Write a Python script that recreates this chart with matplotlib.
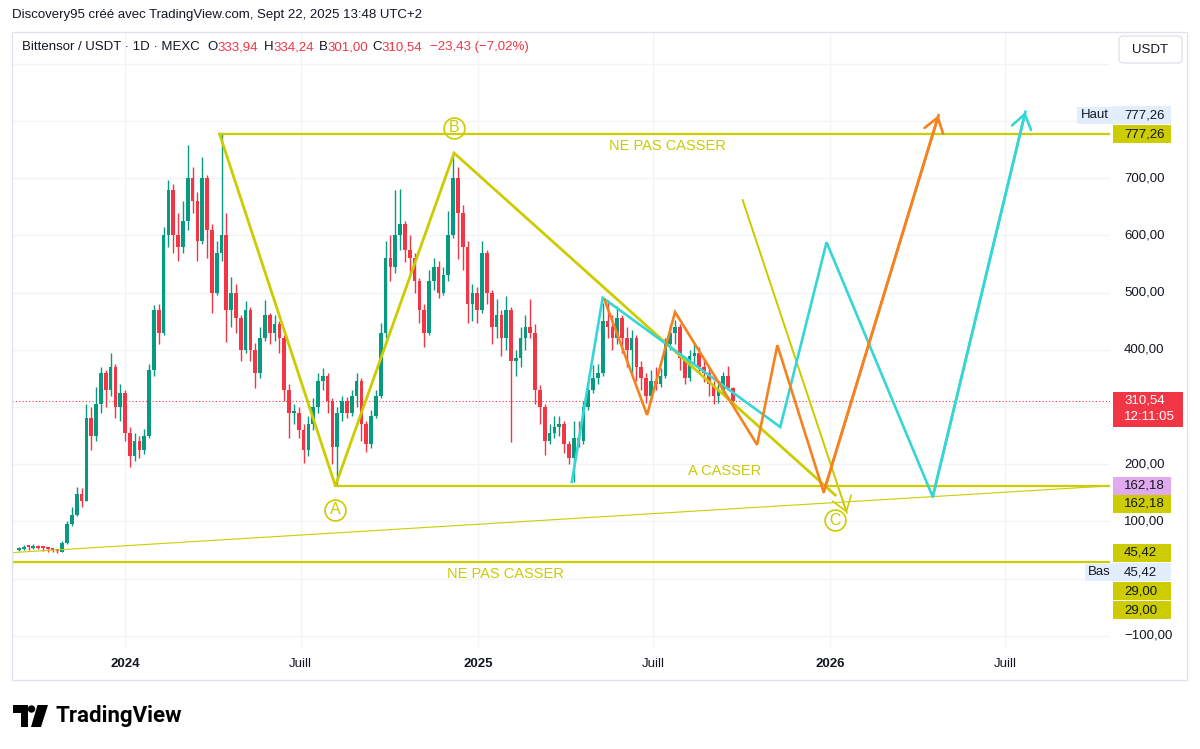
import numpy as np
import matplotlib.pyplot as plt
from matplotlib.patches import Rectangle, FancyBboxPatch, Polygon, Circle
from matplotlib.transforms import IdentityTransform

plt.rcParams['font.family'] = ['Liberation Sans', 'DejaVu Sans']

W, H = 1200, 749
GREEN = '#089981'
RED = '#f23645'
YEL = '#cccc00'
YEL_TXT = '#c8cc00'
CYAN = '#36d6d6'
ORANGE = '#f5821f'
DARK = '#131722'
GRID = '#f2f4f9'

# ---- price data: 5-day candles, day 0 = 1 Jan 2024 ----
first_day = -110
step = 5
first_open = 50.0
closes = [52, 55, 53, 57, 54, 52, 50, 48, 47,
          62, 95, 112, 148, 135, 280, 250, 305, 360,
          330, 370, 300, 325, 255, 215, 240, 225, 250,
          365, 470, 430, 600, 680, 600, 580, 625, 700,
          660, 590, 700, 610, 500, 570, 600, 470, 500,
          455, 400, 470, 400, 360, 420, 460, 430, 445,
          420, 330, 290, 290, 260, 225, 270, 300, 345,
          355, 310, 230, 290, 310, 290, 320, 345, 270,
          235, 285, 320, 430, 560, 545, 600, 620, 575,
          560, 520, 470, 430, 520, 545, 500, 530, 600,
          700, 640, 580, 480, 500, 470, 570, 500, 440,
          460, 420, 470, 380, 385, 420, 440, 430, 330,
          300, 240, 255, 265, 270, 235, 210, 245, 240,
          300, 330, 350, 360, 450, 440, 420, 455, 420,
          400, 420, 370, 350, 320, 345, 340, 355, 410,
          430, 440, 385, 350, 390, 395, 370, 360, 340,
          320, 330, 355, 333.94, 310.54]
highs = [56, 58, 57, 60, 58, 55, 54, 52, 50,
         66, 100, 125, 160, 158, 305, 300, 335, 370,
         365, 394, 375, 340, 330, 265, 255, 250, 262,
         375, 478, 480, 614, 696, 690, 640, 660, 758,
         720, 675, 737, 705, 620, 590, 777.26, 640, 527,
         515, 460, 486, 475, 412, 440, 487, 465, 460,
         450, 425, 340, 305, 300, 270, 285, 315, 360,
         368, 360, 315, 300, 320, 318, 330, 359, 350,
         275, 295, 330, 446, 590, 600, 679, 681, 625,
         600, 570, 525, 480, 540, 560, 555, 545, 643,
         744, 720, 653, 590, 515, 510, 590, 575, 505,
         489, 470, 494, 475, 400, 440, 460, 489, 445,
         339, 306, 270, 285, 285, 275, 240, 276, 276,
         310, 345, 373, 376, 481, 487, 460, 476, 460,
         440, 435, 425, 380, 360, 365, 370, 368, 420,
         445, 452, 445, 387, 400, 410, 405, 383, 370,
         345, 340, 362, 371, 334.24]
lows = [49, 50, 50, 52, 51, 49, 47, 46, 45.42,
        47, 60, 92, 110, 125, 135, 225, 240, 290,
        300, 320, 280, 275, 240, 195, 205, 210, 218,
        245, 355, 410, 425, 580, 570, 556, 570, 610,
        640, 556, 585, 560, 464, 495, 555, 413, 440,
        430, 380, 395, 380, 333, 350, 415, 410, 415,
        395, 310, 246, 270, 245, 202, 215, 260, 290,
        330, 290, 200, 162.18, 275, 280, 285, 300, 240,
        221, 228, 280, 315, 420, 520, 535, 575, 553,
        530, 500, 446, 405, 425, 505, 491, 495, 520,
        595, 558, 540, 446, 450, 446, 465, 480, 411,
        420, 390, 400, 239, 355, 370, 400, 420, 306,
        270, 216, 235, 245, 250, 220, 200, 168, 230,
        235, 295, 325, 340, 355, 420, 400, 410, 395,
        370, 358, 345, 330, 307, 315, 330, 335, 350,
        400, 410, 365, 340, 345, 375, 360, 343, 320,
        306, 307, 325, 330, 301]

last_price = 310.54
top_level = 777.26
break_level = 162.18
low_level = 45.42
floor_level = 29.00

# ---- drawings (day, price) ----
top_start = 98
break_start = 218
tri_days = [98, 218, 341, 736]
tri_prices = [777.26, 162.18, 744, 146]
trend_days = [-117, 1021]
trend_prices = [45.42, 162.18]
thin_days = [640, 748]
thin_prices = [662, 115]
cyan_days = [463, 495, 679, 727, 837, 933]
cyan_prices = [169, 491, 265, 588, 143, 816]
orange_days = [497, 541, 570, 655, 676, 724, 843]
orange_prices = [487, 286, 466, 234, 408, 151, 810]
circle_letters = ['A', 'B', 'C']
circle_days = [218, 341, 736]
circle_prices = [120, 788, 102]
note_texts = ['NE PAS CASSER', 'A CASSER', 'NE PAS CASSER']
note_days = [562, 621, 394]
note_prices = [756, 188, 8]

tick_days = [0, 182, 366, 547, 731, 912]
tick_labels = ['2024', 'Juill', '2025', 'Juill', '2026', 'Juill']
tick_bold = [True, False, True, False, True, False]
price_ticks = [700, 600, 500, 400, 200, 100, -100]

fig = plt.figure(figsize=(W / 100, H / 100), dpi=100)
fig.patch.set_facecolor('white')
ident = IdentityTransform()

ax_left, ax_right, ax_top, ax_bottom = 12, 1110, 32, 647
ax = fig.add_axes([ax_left / W, 1 - ax_bottom / H,
                   (ax_right - ax_left) / W, (ax_bottom - ax_top) / H])
for s in ax.spines.values():
    s.set_visible(False)
ax.set_xticks(tick_days)
ax.set_yticks(np.arange(-100, 901, 100))
ax.tick_params(left=False, bottom=False, labelleft=False, labelbottom=False)
ax.grid(True, color=GRID, lw=1)
ax.set_axisbelow(True)

# candles
closes = np.array(closes, dtype=float)
opens = np.r_[first_open, closes[:-1]]
days = first_day + step * np.arange(len(closes))
colors = np.where(closes >= opens, GREEN, RED)
ax.vlines(days, lows, highs, colors=colors, lw=1.0, zorder=2)
body = closes - opens
body = np.where(np.abs(body) < 3, 3, body)
ax.bar(days, body, bottom=opens, width=3.8, color=colors, lw=0, zorder=2)

ax.axhline(last_price, color=RED, ls=(0, (1, 2)), lw=0.8, zorder=1)

# levels and pattern
ax.plot([top_start, 1100], [top_level, top_level], color=YEL, lw=1.6, zorder=3)
ax.plot([break_start, 1100], [break_level, break_level], color=YEL, lw=1.6, zorder=3)
ax.axhline(floor_level, color=YEL, lw=1.6, zorder=3)
ax.plot(trend_days, trend_prices, color=YEL, lw=0.8, zorder=3)
ax.plot(tri_days, tri_prices, color=YEL, lw=2, zorder=3, solid_joinstyle='miter')


def arrow_path(dd, pp, color, lw):
    ax.plot(dd, pp, color=color, lw=lw, zorder=4, solid_joinstyle='miter')
    ax.annotate('', xy=(dd[-1], pp[-1]), xytext=(dd[-2], pp[-2]),
                arrowprops=dict(arrowstyle='->,head_length=1.0,head_width=0.7',
                                color=color, lw=lw, shrinkA=0, shrinkB=0),
                zorder=4)


arrow_path(thin_days, thin_prices, YEL, 1.2)
arrow_path(cyan_days, cyan_prices, CYAN, 1.9)
arrow_path(orange_days, orange_prices, ORANGE, 1.9)

for letter, d, v in zip(circle_letters, circle_days, circle_prices):
    ax.plot(d, v, 'o', ms=15, mfc='none', mec=YEL, mew=1.2, zorder=5)
    ax.text(d, v, letter, color=YEL, fontsize=11.5, ha='center', va='center', zorder=5)

for t, d, v in zip(note_texts, note_days, note_prices):
    ax.text(d, v, t, color=YEL_TXT, fontsize=10.5, ha='center', va='center', zorder=5)

ax.set_xlim(-117.1, 1020.7)
ax.set_ylim(-119.6, 955.6)


# ---- price axis ----
def py(v):
    return ax.transData.transform((0, v))[1]


def axis_label(text, ypix, fc=None, tc=DARK, x0=1113, w=58, h=18):
    if fc:
        fig.add_artist(Rectangle((x0, ypix - h / 2), w, h, transform=ident,
                                 fc=fc, ec='none'))
    fig.text(1124, ypix, text, transform=ident, ha='left', va='center',
             color=tc, fontsize=9.5)


for v in price_ticks:
    lab = f'{v:.2f}'.replace('.', ',').replace('-', '\u2212')
    axis_label(lab, py(v))

fig.add_artist(Rectangle((1077, py(top_level) + 19 - 8.5), 36, 17, transform=ident,
                         fc='#e3eefc', ec='none'))
fig.text(1081, py(top_level) + 19, 'Haut', transform=ident, ha='left', va='center',
         color=DARK, fontsize=9.5)
axis_label('777,26', py(top_level) + 19, fc='#e3eefc')
axis_label('777,26', py(top_level), fc=YEL)

fig.add_artist(Rectangle((1113, py(last_price) - 26), 70, 35, transform=ident,
                         fc=RED, ec='none'))
fig.text(1124, py(last_price), '310,54', transform=ident, ha='left', va='center',
         color='white', fontsize=9.5)
fig.text(1124, py(last_price) - 16, '12:11:05', transform=ident, ha='left',
         va='center', color='white', fontsize=9.5)

axis_label('162,18', py(break_level), fc='#e2aaee')
axis_label('162,18', py(break_level) - 18, fc=YEL)
axis_label('45,42', py(low_level), fc=YEL)
fig.add_artist(Rectangle((1085, py(low_level) - 19.5 - 8.5), 28, 17, transform=ident,
                         fc='#e3eefc', ec='none'))
fig.text(1088, py(low_level) - 19.5, 'Bas', transform=ident, ha='left', va='center',
         color=DARK, fontsize=9.5)
axis_label('45,42', py(low_level) - 19.5, fc='#e3eefc')
axis_label('29,00', py(floor_level) - 29, fc=YEL)
axis_label('29,00', py(floor_level) - 48, fc=YEL)

# USDT button
fig.add_artist(FancyBboxPatch((1119, H - 63), 63, 27, transform=ident,
                              boxstyle='round,pad=0,rounding_size=4',
                              fc='white', ec='#e0e3eb', lw=1))
fig.text(1150, H - 50, 'USDT', transform=ident, ha='center', va='center',
         color=DARK, fontsize=9.5)

# time axis
for d, lab, b in zip(tick_days, tick_labels, tick_bold):
    x = ax.transData.transform((d, 0))[0]
    fig.text(x, H - 664, lab, transform=ident, ha='center', va='center',
             color=DARK, fontsize=9.5, fontweight='bold' if b else 'normal')

# frame
fig.add_artist(Rectangle((12, H - 680), 1175, 648, transform=ident,
                         fc='none', ec='#e0e3eb', lw=1))

# header
fig.text(12, H - 15, 'Discovery95 créé avec TradingView.com, Sept 22, 2025 13:48 UTC+2',
         transform=ident, ha='left', va='center', color=DARK, fontsize=9.5)


def runs(x, y, pieces):
    prev = None
    for s, c in pieces:
        if prev is None:
            prev = fig.text(x, y, s, transform=ident, ha='left', va='center',
                            color=c, fontsize=9.5)
        else:
            prev = ax.annotate(s, xy=(1, 0), xycoords=prev, va='bottom',
                               ha='left', color=c, fontsize=9.5,
                               annotation_clip=False)


hy = H - 47
runs(22, hy, [('Bittensor / USDT · 1D · MEXC', DARK)])
runs(207, hy, [('O', DARK), ('333,94', RED)])
runs(264, hy, [('H', DARK), ('334,24', RED)])
runs(319, hy, [('B', DARK), ('301,00', RED)])
runs(372, hy, [('C', DARK), ('310,54', RED)])
runs(430, hy, [('\u221223,43 (\u22127,02%)', RED)])

# TradingView logo
fig.add_artist(Rectangle((13, H - 713), 15, 8, transform=ident, fc='black', ec='none'))
fig.add_artist(Rectangle((21, H - 727), 7, 22, transform=ident, fc='black', ec='none'))
fig.add_artist(Circle((31.5, H - 709), 3.7, transform=ident, fc='black', ec='none'))
fig.add_artist(Polygon([(37.5, H - 705), (48, H - 705), (41, H - 727), (31, H - 727)],
                       closed=True, transform=ident, fc='black', ec='none'))
fig.text(55, H - 716, 'TradingView', transform=ident, ha='left', va='center',
         color='black', fontsize=16, fontweight='bold', family=['Roboto', 'DejaVu Sans'])

fig.savefig('out.png', dpi=100)
